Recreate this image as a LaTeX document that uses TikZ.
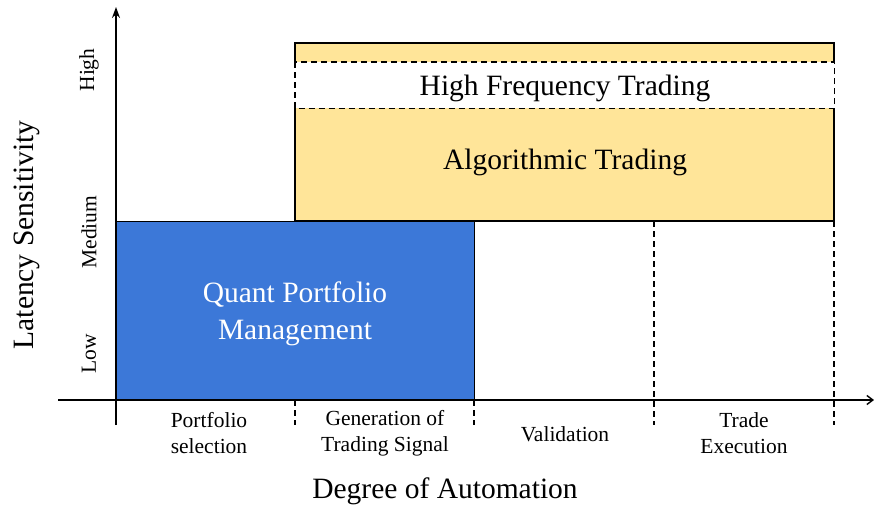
\documentclass[tikz,border=0pt]{standalone}
\usepackage{fontspec}
\setmainfont{Liberation Serif}
\usetikzlibrary{arrows.meta}
\definecolor{qblue}{HTML}{3C78D8}
\definecolor{ayellow}{HTML}{FFE599}
\begin{document}
\begin{tikzpicture}[x=1pt,y=-1pt,
  big/.style={font=\fontsize{29.5}{37}\selectfont, align=center, inner sep=0pt},
  small/.style={font=\fontsize{21.5}{26.5}\selectfont, align=center, inner sep=0pt},
  edge/.style={line width=1.4pt},
  dashedge/.style={line width=1.2pt, dash pattern=on 6pt off 4pt},
  axis/.style={line width=1.4pt}]
\useasboundingbox (0,0) rectangle (874,507);
% yellow algorithmic block
\fill[ayellow] (295,43) rectangle (834,221);
\node[fill=white, draw=none, minimum width=539pt, minimum height=46pt, inner sep=0pt, anchor=north west] (hft) at (295,62) {};
\draw[edge] (295,62) -- (295,43) -- (834,43) -- (834,62);
\draw[edge] (834,108) -- (834,221) -- (295,221) -- (295,108);
\draw[dashedge] (hft.north west) rectangle (hft.south east);
\node[big] (hftlabel) at (565,88) {High Frequency Trading};
\node[big] (algolabel) at (565,162) {Algorithmic Trading};
% blue block
\node[fill=qblue, draw=black, line width=1.4pt, minimum width=358pt, minimum height=179pt, inner sep=0pt, anchor=north west] (qpm) at (116,221) {};
\node[big, text=white] (qpmlabel) at (295,314) {Quant Portfolio\\Management};
% dashed separators
\coordinate (s1t) at (295,400); \coordinate (s1b) at (295,425);
\coordinate (s2t) at (474,400); \coordinate (s2b) at (474,425);
\coordinate (s3t) at (654,221); \coordinate (s3b) at (654,425);
\coordinate (s4t) at (834,221); \coordinate (s4b) at (834,425);
\draw[dashedge] (s1t) -- (s1b);
\draw[dashedge] (s2t) -- (s2b);
\draw[dashedge] (s3t) -- (s3b);
\draw[dashedge] (s4t) -- (s4b);
% axes
\coordinate (xs) at (58,400); \coordinate (xe) at (874,400);
\coordinate (ys) at (116,425); \coordinate (ye) at (116,7);
\draw[axis,-{Straight Barb[length=6pt,width=9pt]}] (xs) -- (xe);
\draw[axis,-{Stealth[length=11pt,width=8pt]}] (ys) -- (ye);
% axis labels
\node[big, rotate=90] (ylab) at (27,235) {Latency Sensitivity};
\node[big] (xlab) at (445,491) {Degree of Automation};
\node[small, rotate=90] (high) at (89,70) {High};
\node[small, rotate=90] (med) at (89,232) {Medium};
\node[small, rotate=90] (low) at (89,354) {Low};
\node[small] (t1) at (209,433) {Portfolio\\selection};
\node[small] (t2) at (385,433) {Generation of\\Trading Signal};
\node[small] (t3) at (565,434) {Validation};
\node[small] (t4) at (744,433) {Trade\\Execution};
\end{tikzpicture}
\end{document}
